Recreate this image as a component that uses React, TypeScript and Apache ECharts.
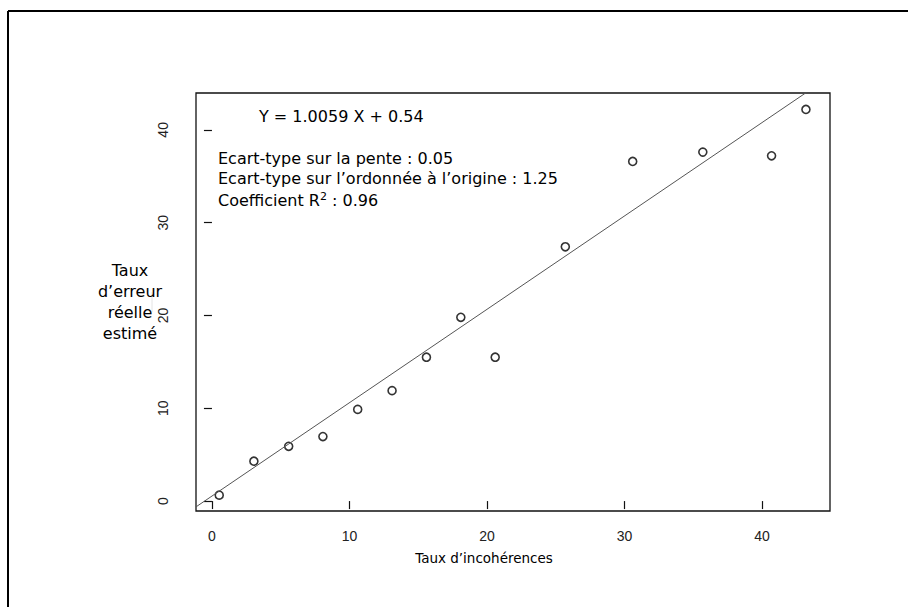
import React, { useEffect, useRef } from "react";
import * as echarts from "echarts";

// Data
const xValues = [0.53, 3.05, 5.58, 8.07, 10.6, 13.1, 15.6, 18.1, 20.6, 25.7, 30.6, 35.7, 40.7, 43.2];
const yValues = [0.64, 4.3, 5.9, 6.95, 9.88, 11.9, 15.5, 19.8, 15.5, 27.4, 36.6, 37.6, 37.2, 42.2];
const xTicks = [0, 10, 20, 30, 40];
const yTicks = [0, 10, 20, 30, 40];
const slope = 1.0059;
const intercept = 0.54;
const xMin = -1.16;
const xMax = 44.95;
const yMin = -1.07;
const yMax = 43.97;

const eqText = "Y = 1.0059 X + 0.54";
const statLines = [
  "Ecart-type sur la pente : 0.05",
  "Ecart-type sur l\u2019ordonnée à l\u2019origine : 1.25",
];
const r2Text = "Coefficient R{sup|2} : 0.96";
const yTitleLines = ["Taux", "d\u2019erreur", "réelle", "estimé"];
const xTitle = "Taux d\u2019incohérences";

export default function App() {
  const ref = useRef<HTMLDivElement>(null);
  useEffect(() => {
    if (!ref.current) return;
    const chart = echarts.init(ref.current, null, { renderer: "svg" });
    const pts = xValues.map((x, i) => [x, yValues[i]]);
    const lineData = [
      [xMin, slope * xMin + intercept],
      [xMax, slope * xMax + intercept],
    ];
    const annFont = "'DejaVu Sans', Verdana, sans-serif";
    const tickFont = "'Liberation Sans', Arial, sans-serif";
    const graphics: any[] = [
      { type: "line", shape: { x1: 8, y1: 11, x2: 908, y2: 11 }, style: { stroke: "#000", lineWidth: 2 } },
      { type: "line", shape: { x1: 8, y1: 11, x2: 8, y2: 607 }, style: { stroke: "#000", lineWidth: 2 } },
      { type: "line", shape: { x1: 152, y1: 292, x2: 152, y2: 312 }, style: { stroke: "#e4e4e4", lineWidth: 1 } },
      {
        type: "text", left: 259, top: 108,
        style: { text: eqText, font: `16px ${annFont}`, fill: "#000" },
      },
      ...statLines.map((t, i) => ({
        type: "text", left: 218, top: 150 + i * 20.5,
        style: { text: t, font: `16px ${annFont}`, fill: "#000" },
      })),
      {
        type: "text", left: 218, top: 191,
        style: {
          text: r2Text, fontFamily: annFont, fontSize: 16, fill: "#000",
          rich: { sup: { fontFamily: annFont, fontSize: 11, verticalAlign: "top", lineHeight: 18 } },
        },
      },
      ...yTitleLines.map((t, i) => ({
        type: "text", x: 130, y: 270 + i * 21,
        style: { text: t, font: `16px ${annFont}`, fill: "#000", align: "center", verticalAlign: "middle" },
      })),
      {
        type: "text", x: 484, y: 558,
        style: { text: xTitle, font: `13.5px ${annFont}`, fill: "#000", align: "center", verticalAlign: "middle" },
      },
    ];
    chart.setOption({
      animation: false,
      backgroundColor: "#fff",
      grid: { left: 196, top: 93, width: 634, height: 418, show: true, borderColor: "#111", borderWidth: 1.3, backgroundColor: "transparent" },
      xAxis: {
        type: "value", min: xMin, max: xMax,
        axisLine: { show: false },
        splitLine: { show: false },
        axisTick: { show: true, customValues: xTicks, length: 8, lineStyle: { color: "#111", width: 1.2 } },
        axisLabel: { customValues: xTicks, margin: 18, fontFamily: tickFont, fontSize: 14, color: "#222" },
      },
      yAxis: {
        type: "value", min: yMin, max: yMax,
        axisLine: { show: false },
        splitLine: { show: false },
        axisTick: { show: true, customValues: yTicks, length: 8, lineStyle: { color: "#111", width: 1.2 } },
        axisLabel: { customValues: yTicks, rotate: 90, margin: 26, fontFamily: tickFont, fontSize: 14, color: "#222" },
      },
      series: [
        {
          type: "line", data: lineData, showSymbol: false, clip: true,
          lineStyle: { color: "#555", width: 1 }, silent: true,
        },
        {
          type: "scatter", data: pts, symbol: "circle", symbolSize: 8,
          itemStyle: { color: "#fff", borderColor: "#000", borderWidth: 1.6 },
        },
      ],
      graphic: graphics,
    });
    return () => chart.dispose();
  }, []);
  return <div ref={ref} style={{ position: "absolute", left: 0, top: 0, width: 908, height: 607 }} />;
}
